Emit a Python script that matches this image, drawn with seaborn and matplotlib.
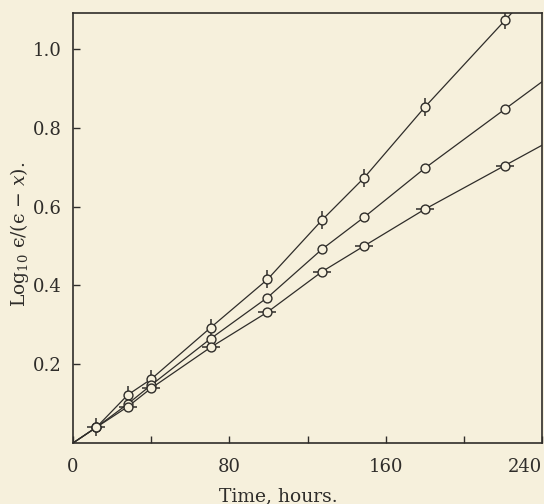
import numpy as np
import pandas as pd
import matplotlib
matplotlib.use("Agg")
import matplotlib.pyplot as plt
import seaborn as sns

# ---- data ----
hours = [12, 28, 40, 70.5, 99.5, 127.5, 149, 180, 221]
series_top = [0.040, 0.122, 0.162, 0.293, 0.415, 0.566, 0.673, 0.852, 1.072]
series_mid = [0.040, 0.099, 0.147, 0.265, 0.369, 0.492, 0.573, 0.697, 0.847]
series_low = [0.040, 0.092, 0.139, 0.243, 0.332, 0.435, 0.500, 0.593, 0.704]
series_names = ["top", "middle", "bottom"]
x_ticks = [0, 40, 80, 120, 160, 200, 240]
x_ticklabels = ["0", "", "80", "", "160", "", "240"]
y_ticks = [0.2, 0.4, 0.6, 0.8, 1.0]
y_ticklabels = ["0.2", "0.4", "0.6", "0.8", "1.0"]
x_label = "Time, hours."
y_label = "Log$_{10}$ \u03f5/(\u03f5 \u2212 $x$)."

PAPER = "#f6f0dc"
INK = "#2f2d2a"

sns.set_style("ticks")
plt.rcParams["font.family"] = ["DejaVu Serif"]
plt.rcParams["mathtext.fontset"] = "dejavuserif"

fig = plt.figure(figsize=(5.44, 5.04), dpi=100, facecolor=PAPER)
ax = fig.add_axes([73 / 544, (504 - 443) / 504, (542 - 73) / 544, (443 - 13) / 504])
ax.set_facecolor(PAPER)

rows = []
line_rows = []
for name, vals in zip(series_names, [series_top, series_mid, series_low]):
    for h, v in zip(hours, vals):
        rows.append({"series": name, "hours": h, "value": v})
    # line: from origin, through the points, extended past the frame
    slope = (vals[-1] - vals[-2]) / (hours[-1] - hours[-2])
    xs = [0] + hours + [260]
    ys = [0] + vals + [vals[-1] + slope * (260 - hours[-1])]
    for h, v in zip(xs, ys):
        line_rows.append({"series": name, "hours": h, "value": v})

df = pd.DataFrame(rows)
dl = pd.DataFrame(line_rows)

for name in series_names:
    sub = dl[dl.series == name]
    sns.lineplot(data=sub, x="hours", y="value", sort=False, estimator=None,
                 color=INK, lw=0.9, ax=ax, zorder=2)

tick_marker = {"top": "|", "middle": None, "bottom": "_"}
for name in series_names:
    sub = df[df.series == name]
    if tick_marker[name]:
        sns.lineplot(data=sub, x="hours", y="value", estimator=None, ax=ax,
                     linestyle="", marker=tick_marker[name], markersize=13,
                     markeredgewidth=1.1, markeredgecolor=INK, color=INK,
                     zorder=3)
    sns.lineplot(data=sub, x="hours", y="value", estimator=None, ax=ax,
                 linestyle="", marker="o", markersize=6.4,
                 markerfacecolor=PAPER, markeredgecolor=INK,
                 markeredgewidth=1.0, zorder=4)

ax.set_xlim(0, 240)
ax.set_ylim(0, 1.091)
ax.set_xticks(x_ticks)
ax.set_xticklabels(x_ticklabels)
ax.set_yticks(y_ticks)
ax.set_yticklabels(y_ticklabels)
ax.get_xticklabels()[-1].set_horizontalalignment("right")

ax.tick_params(axis="both", direction="in", length=5, width=1.0, colors=INK,
               labelsize=13, labelcolor=INK)
ax.tick_params(axis="x", pad=11)
ax.tick_params(axis="y", pad=8)
for sp in ax.spines.values():
    sp.set_visible(True)
    sp.set_color(INK)
    sp.set_linewidth(1.2)

ax.set_xlabel("")
ax.set_ylabel("")
fig.text(278 / 544, (504 - 501.5) / 504, x_label, ha="center", va="baseline",
         fontsize=13.5, color=INK)
fig.text(20 / 544, (504 - 234) / 504, y_label, ha="center", va="center",
         rotation=90, fontsize=13.5, color=INK)

fig.savefig("out.png", dpi=100, facecolor=PAPER)
